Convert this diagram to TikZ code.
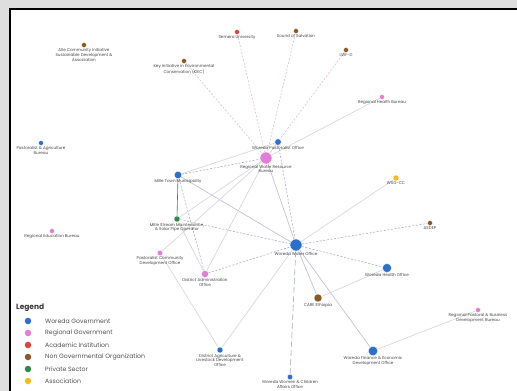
\documentclass[tikz,border=0pt]{standalone}
\usepackage{fontspec}
\setmainfont{Poppins}
\usetikzlibrary{backgrounds}
\pgfdeclarelayer{edges}
\pgfsetlayers{background,edges,main}

\definecolor{wgov}{HTML}{2F6FCC}
\definecolor{rgov}{HTML}{E27ED6}
\definecolor{acad}{HTML}{E0413A}
\definecolor{ngo}{HTML}{8A5A24}
\definecolor{priv}{HTML}{2E8B45}
\definecolor{assoc}{HTML}{F2BC1A}
\definecolor{panelgray}{HTML}{DEDEDE}
\definecolor{soft}{HTML}{D8D8E0}
\definecolor{mid}{HTML}{C2C5D2}
\definecolor{dashc}{HTML}{A3ACC2}
\definecolor{dashpink}{HTML}{DCC4C4}

\tikzset{
  dot/.style={circle,inner sep=0pt,minimum size=#1,draw=white,line width=0.3pt},
  lbl/.style={font=\fontsize{4.1}{4.8}\selectfont,text=black!72,align=center,inner sep=0.6pt},
  link/.style={draw=soft,line width=0.7pt},
  linkmid/.style={draw=mid,line width=0.7pt},
  dlink/.style={draw=dashc,line width=0.55pt,dash pattern=on 2pt off 1.6pt},
  dpink/.style={draw=dashpink,line width=0.6pt,dash pattern=on 2pt off 1.6pt},
  dlong/.style={draw=dashc,line width=0.6pt,dash pattern=on 6pt off 3pt},
  legtext/.style={font=\fontsize{6.2}{7}\selectfont,text=black!68,anchor=west,inner sep=0pt}
}

\begin{document}
\begin{tikzpicture}[x=1pt,y=-1pt]
\useasboundingbox (0,0) rectangle (517,391);

% frame
\begin{pgfonlayer}{background}
  \fill[panelgray] (0,0) rectangle (517,391);
  \fill[white] (10,9) rectangle (517,391);
  \draw[line width=2pt,black] (10,391) -- (10,9) -- (517,9);
\end{pgfonlayer}

% organisations
\node[dot=5pt,fill=ngo,label={[lbl]below:Alle Community Initiative\\Sustainable Development \&\\Association}] (alle) at (84,45) {};
\node[dot=5pt,fill=ngo,label={[lbl]below:Key Initiative in Environmental\\Conservation (KIEC)}] (kiec) at (184,61) {};
\node[dot=5pt,fill=acad,label={[lbl]below:Semera University}] (semera) at (237,32) {};
\node[dot=5pt,fill=ngo,label={[lbl]below:Sound of Salvation}] (sound) at (296,31) {};
\node[dot=5pt,fill=ngo,label={[lbl]below:LWF-D}] (lwf) at (346,50) {};
\node[dot=5pt,fill=rgov,label={[lbl]below:Regional Health Bureau}] (rhb) at (382,97) {};
\node[dot=5pt,fill=wgov,label={[lbl]below:Pastoralist \& Agriculture\\Bureau}] (pab) at (41,143) {};
\node[dot=6.5pt,fill=wgov,label={[lbl]below:Woreda Pastoralist Office}] (wpo) at (278,142) {};
\node[dot=12pt,fill=rgov,label={[lbl]below:Regional Water Resource\\Bureau}] (rwb) at (266,158) {};
\node[dot=7.5pt,fill=wgov,label={[lbl]below:Mille Town Municipality}] (mtm) at (178,175) {};
\node[dot=6pt,fill=priv,label={[lbl]below:Mille Stream Maintenance,\\\& Solar Pipe Operator}] (mso) at (177,219) {};
\node[dot=5pt,fill=rgov,label={[lbl]below:Regional Education Bureau}] (reb) at (52,231) {};
\node[dot=5.5pt,fill=rgov,label={[lbl]below:Pastoralist Community\\Development Office}] (pcd) at (160,253) {};
\node[dot=7pt,fill=rgov,label={[lbl]below:District Administration\\Office}] (dao) at (205,274) {};
\node[dot=12pt,fill=wgov,label={[lbl]below:Woreda Water Office}] (wwo) at (296,245) {};
\node[dot=6pt,fill=assoc,label={[lbl]below:WSG-CC}] (wsg) at (396,178) {};
\node[dot=5pt,fill=ngo,label={[lbl]below:ASDEP}] (asdep) at (430,223) {};
\node[dot=9pt,fill=wgov,label={[lbl]below:Woreda Health Office}] (who) at (387,268) {};
\node[dot=8pt,fill=ngo,label={[lbl]below:CARE Ethiopia}] (care) at (318,298) {};
\node[dot=5pt,fill=rgov,label={[lbl]below:Regional Pastoral \& Business\\Development Bureau}] (rpb) at (478,310) {};
\node[dot=9.5pt,fill=wgov,label={[lbl]below:Woreda Finance \& Economic\\Development Office}] (wfo) at (373,351) {};
\node[dot=6pt,fill=wgov,label={[lbl]below:District Agriculture \&\\Livestock Development\\Office}] (dal) at (220,350) {};
\node[dot=5.5pt,fill=wgov,label={[lbl]below:Woreda Women \& Children\\Affairs Office}] (wwc) at (290,377) {};

% links
\begin{pgfonlayer}{edges}
  \draw[dpink] (kiec) -- (rwb);
  \draw[dpink] (semera) -- (rwb);
  \draw[dpink] (sound) -- (rwb);
  \draw[dpink] (lwf) -- (rwb);
  \draw[link] (rhb) -- (rwb);
  \draw[link] (wpo) -- (rwb);
  \draw[dlink] (wpo) -- (wwo);
  \draw[linkmid] (rwb) -- (wwo);
  \draw[link] (mtm) -- (wpo);
  \draw[dlink] (mtm) -- (rwb);
  \draw[linkmid] (mtm) -- (wwo);
  \draw[priv,line width=0.6pt] (mtm) -- (mso);
  \draw[dlink] (mtm) -- (dao);
  \draw[dlink] (mso) -- (wwo);
  \draw[link] (mso) -- (rwb);
  \draw[link] (mso) -- (dao);
  \draw[link] (pcd) -- (rwb);
  \draw[link] (pcd) -- (dal);
  \draw[dlink] (dao) -- (wwo);
  \draw[link] (dao) -- (rwb);
  \draw[link] (dal) -- (wwo);
  \draw[dlong] (wwo) -- (wwc);
  \draw[linkmid] (wwo) -- (care);
  \draw[link] (care) -- (who);
  \draw[dlink] (wwo) -- (who);
  \draw[linkmid] (wwo) -- (wfo);
  \draw[link] (wfo) -- (rpb);
  \draw[link] (wwo) -- (wsg);
  \draw[dlink] (wwo) -- (asdep);
\end{pgfonlayer}

% legend
\node[font=\fontsize{7.5}{9}\selectfont\bfseries,text=black!78,anchor=west,inner sep=0pt] (legtitle) at (16,308) {Legend};
\foreach \c/\t/\y [count=\i] in {wgov/Woreda Government/321,
                                 rgov/Regional Government/333,
                                 acad/Academic Institution/345,
                                 ngo/Non Governmental Organization/357,
                                 priv/Private Sector/369,
                                 assoc/Association/381}{
  \node[dot=6.5pt,fill=\c,draw=none] (legdot\i) at (28,\y) {};
  \node[legtext] (leglbl\i) at (45,\y) {\t};
}
\end{tikzpicture}
\end{document}
